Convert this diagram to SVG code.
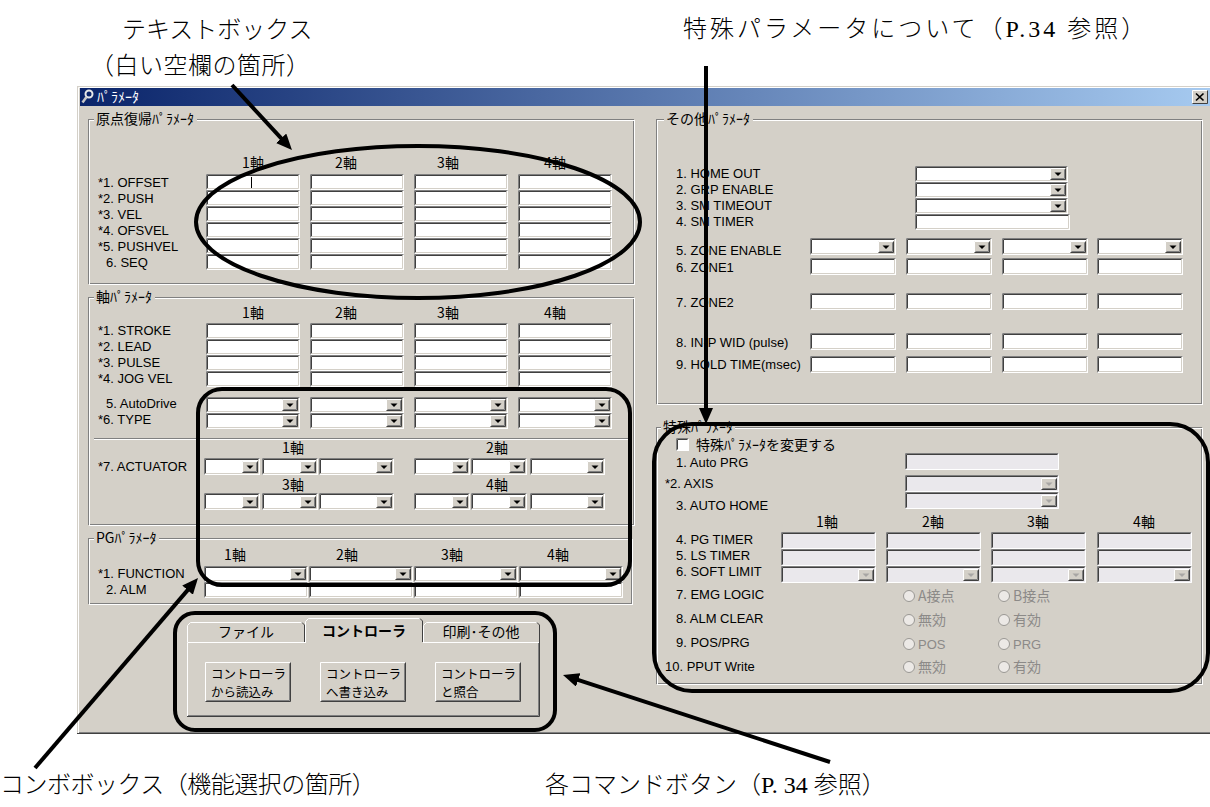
<svg xmlns="http://www.w3.org/2000/svg" width="1210" height="807" viewBox="0 0 1210 807">
<style>
.ui{font-family:'Liberation Sans','Noto Sans CJK JP',sans-serif;font-size:13px;fill:#000}
.jp{font-family:'Noto Sans CJK JP',sans-serif;font-size:14px;fill:#000}
.bt{font-family:'Noto Sans CJK JP',sans-serif;font-size:12.5px;fill:#000}
.mid{text-anchor:middle}
.dis{fill:#8c8a88}
.wt{fill:#fff}
.ann{font-family:'Liberation Serif','Noto Sans CJK JP',serif;font-size:24px;fill:#000;font-weight:300}
.s1{fill:none;stroke:#808080}
.s2{fill:none;stroke:#404040}
.s3{fill:none;stroke:#d4d0c8}
.hw{fill:none;stroke:#fff}
.face{fill:#d4d0c8}
.mark{fill:none;stroke:#000;stroke-width:4}
.conn{fill:none;stroke:#000;stroke-width:4}
.rad{fill:#ece9e6;stroke:#9a9894}
</style>
<defs>
<linearGradient id="tg" x1="0" y1="0" x2="1" y2="0"><stop offset="0" stop-color="#0a246a"/><stop offset="1" stop-color="#a6caf0"/></linearGradient>
<marker id="ah" viewBox="0 0 16 14" refX="6" refY="7" markerWidth="16" markerHeight="14" markerUnits="userSpaceOnUse" orient="auto"><path d="M0 0L16 7L0 14z" fill="#000"/></marker>
<g id="ab"><rect width="16" height="12" fill="#d4d0c8"/><path d="M.5 11.5V.5h15" class="hw"/><path d="M.5 11.5h15V.5" class="s2"/><path d="M1.5 10.5h13V1.5" class="s1"/><path d="M4.5 4.5h7L8 8z" fill="#000"/></g>
<g id="abd"><rect width="16" height="12" fill="#d4d0c8"/><path d="M.5 11.5V.5h15" class="hw"/><path d="M.5 11.5h15V.5" class="s2"/><path d="M1.5 10.5h13V1.5" class="s1"/><path d="M4.5 4.5h7L8 8z" fill="#a8a6a4"/></g>
<g id="t94"><rect width="94" height="16" fill="#fff"/><path d="M.5 15.5V.5h93" class="s1"/><path d="M1.5 14.5V1.5h91" class="s2"/><path d="M1.5 14.5h91V1.5" class="s3"/></g>
<g id="c94"><use href="#t94"/><use href="#ab" x="76" y="2"/></g>
<g id="c56"><rect width="56" height="17" fill="#fff"/><path d="M.5 16.5V.5h55" class="s1"/><path d="M1.5 15.5V1.5h53" class="s2"/><path d="M1.5 15.5h53V1.5" class="s3"/><use href="#ab" x="38" y="3"/></g>
<g id="c75"><rect width="75" height="17" fill="#fff"/><path d="M.5 16.5V.5h74" class="s1"/><path d="M1.5 15.5V1.5h72" class="s2"/><path d="M1.5 15.5h72V1.5" class="s3"/><use href="#ab" x="57" y="3"/></g>
<g id="t104"><rect width="104" height="16" fill="#fff"/><path d="M.5 15.5V.5h103" class="s1"/><path d="M1.5 14.5V1.5h101" class="s2"/><path d="M1.5 14.5h101V1.5" class="s3"/></g>
<g id="c104"><use href="#t104"/><use href="#ab" x="86" y="2"/></g>
<g id="t153"><rect width="153" height="16" fill="#fff"/><path d="M.5 15.5V.5h152" class="s1"/><path d="M1.5 14.5V1.5h150" class="s2"/><path d="M1.5 14.5h150V1.5" class="s3"/></g>
<g id="c153"><use href="#t153"/><use href="#ab" x="135" y="2"/></g>
<g id="t155"><rect width="155" height="16" fill="#fff"/><path d="M.5 15.5V.5h154" class="s1"/><path d="M1.5 14.5V1.5h152" class="s2"/><path d="M1.5 14.5h152V1.5" class="s3"/></g>
<g id="t86"><rect width="86" height="17" fill="#fff"/><path d="M.5 16.5V.5h85" class="s1"/><path d="M1.5 15.5V1.5h83" class="s2"/><path d="M1.5 15.5h83V1.5" class="s3"/></g>
<g id="c86"><use href="#t86"/><use href="#ab" x="68" y="3"/></g>
<g id="d154"><rect width="154" height="17" fill="#eae8ec"/><path d="M.5 16.5V.5h153" class="s1"/><path d="M1.5 15.5V1.5h151" class="s2"/><path d="M.5 16.5h153V.5" class="hw"/></g>
<g id="e154"><use href="#d154"/><use href="#abd" x="136" y="3"/></g>
<g id="d95"><rect width="95" height="17" fill="#eae8ec"/><path d="M.5 16.5V.5h94" class="s1"/><path d="M1.5 15.5V1.5h92" class="s2"/><path d="M.5 16.5h94V.5" class="hw"/></g>
<g id="e95"><use href="#d95"/><use href="#abd" x="77" y="3"/></g>
<g id="btn"><rect width="86" height="40" fill="#d4d0c8"/><path d="M.5 39.5V.5h85" class="hw"/><path d="M.5 39.5h85V.5" class="s2"/><path d="M1.5 38.5h83V1.5" class="s1"/></g>
</defs>

<rect width="1210" height="807" fill="#fff"/>

<g id="window">
<rect x="77" y="86" width="1140" height="648" fill="#d4d0c8"/>
<path d="M78.5 733V87.5H1210" class="hw"/>
<path d="M77 733.5H1210" class="s2"/>
<path d="M79 732.5H1210" class="s1"/>
<rect x="80" y="88" width="1130" height="18" fill="url(#tg)"/>
<circle cx="89" cy="94" r="3.5" fill="none" stroke="#e8e8e8" stroke-width="2"/>
<path d="M86.5 97L82.5 102.5" stroke="#c8c8c8" stroke-width="2.5"/>
<text x="97" y="102" class="jp wt">ﾊﾟﾗﾒｰﾀ</text>
<rect x="1192" y="90" width="16" height="14" fill="#d4d0c8"/>
<path d="M1192.5 103.5V90.5h15" class="hw"/><path d="M1192.5 103.5h15V90.5" class="s2"/>
<path d="M1196 93.5l7.5 7M1203.5 93.5l-7.5 7" stroke="#000" stroke-width="1.7"/>
</g>

<g id="home-params">
<rect x="88.5" y="119.5" width="545" height="164" class="s1"/><rect x="89.5" y="120.5" width="545" height="164" class="hw"/>
<rect x="94" y="112" width="103" height="14" class="face"/>
<text x="96" y="124" class="jp">原点復帰ﾊﾟﾗﾒｰﾀ</text>
<text x="253" y="168" class="jp mid">1軸</text><text x="346" y="168" class="jp mid">2軸</text><text x="448" y="168" class="jp mid">3軸</text><text x="555" y="168" class="jp mid">4軸</text>
<text x="98" y="187" class="ui">*1. OFFSET</text>
<text x="98" y="203" class="ui">*2. PUSH</text>
<text x="98" y="219" class="ui">*3. VEL</text>
<text x="98" y="235" class="ui">*4. OFSVEL</text>
<text x="98" y="251" class="ui">*5. PUSHVEL</text>
<text x="106" y="267" class="ui">6. SEQ</text>
<use href="#t94" x="206" y="174"/><use href="#t94" x="310" y="174"/><use href="#t94" x="414" y="174"/><use href="#t94" x="518" y="174"/>
<use href="#t94" x="206" y="190"/><use href="#t94" x="310" y="190"/><use href="#t94" x="414" y="190"/><use href="#t94" x="518" y="190"/>
<use href="#t94" x="206" y="206"/><use href="#t94" x="310" y="206"/><use href="#t94" x="414" y="206"/><use href="#t94" x="518" y="206"/>
<use href="#t94" x="206" y="222"/><use href="#t94" x="310" y="222"/><use href="#t94" x="414" y="222"/><use href="#t94" x="518" y="222"/>
<use href="#t94" x="206" y="238"/><use href="#t94" x="310" y="238"/><use href="#t94" x="414" y="238"/><use href="#t94" x="518" y="238"/>
<use href="#t94" x="206" y="254"/><use href="#t94" x="310" y="254"/><use href="#t94" x="414" y="254"/><use href="#t94" x="518" y="254"/>
<path d="M251.5 177v11" stroke="#000"/>
</g>

<g id="axis-params">
<rect x="88.5" y="297.5" width="545" height="227" class="s1"/><rect x="89.5" y="298.5" width="545" height="227" class="hw"/>
<rect x="94" y="290" width="61" height="14" class="face"/>
<text x="96" y="302" class="jp">軸ﾊﾟﾗﾒｰﾀ</text>
<text x="253" y="318" class="jp mid">1軸</text><text x="346" y="318" class="jp mid">2軸</text><text x="448" y="318" class="jp mid">3軸</text><text x="555" y="318" class="jp mid">4軸</text>
<text x="98" y="335" class="ui">*1. STROKE</text>
<text x="98" y="351" class="ui">*2. LEAD</text>
<text x="98" y="367" class="ui">*3. PULSE</text>
<text x="98" y="383" class="ui">*4. JOG VEL</text>
<text x="106" y="408" class="ui">5. AutoDrive</text>
<text x="98" y="424" class="ui">*6. TYPE</text>
<use href="#t94" x="206" y="323"/><use href="#t94" x="310" y="323"/><use href="#t94" x="414" y="323"/><use href="#t94" x="518" y="323"/>
<use href="#t94" x="206" y="339"/><use href="#t94" x="310" y="339"/><use href="#t94" x="414" y="339"/><use href="#t94" x="518" y="339"/>
<use href="#t94" x="206" y="355"/><use href="#t94" x="310" y="355"/><use href="#t94" x="414" y="355"/><use href="#t94" x="518" y="355"/>
<use href="#t94" x="206" y="371"/><use href="#t94" x="310" y="371"/><use href="#t94" x="414" y="371"/><use href="#t94" x="518" y="371"/>
<use href="#c94" x="206" y="397"/><use href="#c94" x="310" y="397"/><use href="#c94" x="414" y="397"/><use href="#c94" x="518" y="397"/>
<use href="#c94" x="206" y="413"/><use href="#c94" x="310" y="413"/><use href="#c94" x="414" y="413"/><use href="#c94" x="518" y="413"/>
<path d="M94 438.5H628" class="s1"/><path d="M94 439.5H628" class="hw"/>
<text x="293" y="453" class="jp mid">1軸</text><text x="497" y="453" class="jp mid">2軸</text>
<text x="98" y="471" class="ui">*7. ACTUATOR</text>
<use href="#c56" x="204" y="458"/><use href="#c56" x="262" y="458"/><use href="#c75" x="319" y="458"/>
<use href="#c56" x="414" y="458"/><use href="#c56" x="471" y="458"/><use href="#c75" x="530" y="458"/>
<text x="293" y="490" class="jp mid">3軸</text><text x="497" y="490" class="jp mid">4軸</text>
<use href="#c56" x="204" y="493"/><use href="#c56" x="262" y="493"/><use href="#c75" x="319" y="493"/>
<use href="#c56" x="414" y="493"/><use href="#c56" x="471" y="493"/><use href="#c75" x="530" y="493"/>
</g>

<g id="pg-params">
<rect x="88.5" y="538.5" width="543" height="65" class="s1"/><rect x="89.5" y="539.5" width="543" height="65" class="hw"/>
<rect x="94" y="531" width="65" height="14" class="face"/>
<text x="96" y="543" class="jp">PGﾊﾟﾗﾒｰﾀ</text>
<text x="235" y="560" class="jp mid">1軸</text><text x="347" y="560" class="jp mid">2軸</text><text x="452" y="560" class="jp mid">3軸</text><text x="558" y="560" class="jp mid">4軸</text>
<text x="98" y="578" class="ui">*1. FUNCTION</text>
<text x="106" y="594" class="ui">2. ALM</text>
<use href="#c104" x="204" y="566"/><use href="#c104" x="309" y="566"/><use href="#c104" x="414" y="566"/><use href="#c104" x="519" y="566"/>
<use href="#t104" x="204" y="582"/><use href="#t104" x="309" y="582"/><use href="#t104" x="414" y="582"/><use href="#t104" x="519" y="582"/>
</g>

<g id="tab-control">
<rect x="187" y="642" width="353" height="75" fill="#d4d0c8"/>
<path d="M187.5 716.5V642.5H540" class="hw"/>
<path d="M187 716.5H539.5V642" class="s2"/>
<path d="M188 715.5H538.5V643" class="s1"/>
<path d="M187 642V625l3-3h112l3 3v17z" fill="#d4d0c8"/>
<path d="M187.5 642V625.5l3-3H302" class="hw"/><path d="M302 622.5l2.5 2.5V642" class="s2"/>
<path d="M423 642V625l3-3h111l3 3v17z" fill="#d4d0c8"/>
<path d="M423.5 642V625.5l3-3H537" class="hw"/><path d="M537 622.5l2.5 2.5V642" class="s2"/>
<path d="M305 643.5V621l3-3h112l3 3v22.5z" fill="#d4d0c8"/>
<path d="M305.5 643V621.5l3-3H420" class="hw"/><path d="M420 618.5l2.5 2.5V642" class="s2"/>
<text x="246" y="637" class="jp mid">ファイル</text>
<text x="364" y="636" class="jp mid" font-weight="bold">コントローラ</text>
<text x="481" y="637" class="jp mid">印刷･その他</text>
<use href="#btn" x="205" y="662"/><use href="#btn" x="320" y="662"/><use href="#btn" x="435" y="662"/>
<text x="211" y="679" class="bt">コントローラ</text><text x="211" y="697" class="bt">から読込み</text>
<text x="326" y="679" class="bt">コントローラ</text><text x="326" y="697" class="bt">へ書き込み</text>
<text x="441" y="679" class="bt">コントローラ</text><text x="441" y="697" class="bt">と照合</text>
</g>

<g id="other-params">
<rect x="656.5" y="119.5" width="545" height="284" class="s1"/><rect x="657.5" y="120.5" width="545" height="284" class="hw"/>
<rect x="664" y="112" width="89" height="14" class="face"/>
<text x="666" y="124" class="jp">その他ﾊﾟﾗﾒｰﾀ</text>
<text x="676" y="178" class="ui">1. HOME OUT</text>
<text x="676" y="194" class="ui">2. GRP ENABLE</text>
<text x="676" y="210" class="ui">3. SM TIMEOUT</text>
<text x="676" y="226" class="ui">4. SM TIMER</text>
<use href="#c153" x="915" y="166"/><use href="#c153" x="915" y="182"/><use href="#c153" x="915" y="198"/><use href="#t155" x="915" y="214"/>
<text x="676" y="255" class="ui">5. ZONE ENABLE</text>
<text x="676" y="272" class="ui">6. ZONE1</text>
<text x="676" y="307" class="ui">7. ZONE2</text>
<text x="676" y="347" class="ui">8. IN-P WID (pulse)</text>
<text x="676" y="369" class="ui">9. HOLD TIME(msec)</text>
<use href="#c86" x="810" y="238"/><use href="#c86" x="906" y="238"/><use href="#c86" x="1002" y="238"/><use href="#c86" x="1097" y="238"/>
<use href="#t86" x="810" y="258"/><use href="#t86" x="906" y="258"/><use href="#t86" x="1002" y="258"/><use href="#t86" x="1097" y="258"/>
<use href="#t86" x="810" y="293"/><use href="#t86" x="906" y="293"/><use href="#t86" x="1002" y="293"/><use href="#t86" x="1097" y="293"/>
<use href="#t86" x="810" y="333"/><use href="#t86" x="906" y="333"/><use href="#t86" x="1002" y="333"/><use href="#t86" x="1097" y="333"/>
<use href="#t86" x="810" y="356"/><use href="#t86" x="906" y="356"/><use href="#t86" x="1002" y="356"/><use href="#t86" x="1097" y="356"/>
</g>

<g id="special-params">
<rect x="656.5" y="427.5" width="545" height="256" class="s1"/><rect x="657.5" y="428.5" width="545" height="256" class="hw"/>
<rect x="661" y="420" width="74" height="14" class="face"/>
<text x="663" y="432" class="jp">特殊ﾊﾟﾗﾒｰﾀ</text>
<rect x="676" y="438" width="13" height="13" fill="#fff"/>
<path d="M676.5 450.5V438.5h12" class="s1"/><path d="M677.5 449.5V439.5h10" class="s2"/>
<text x="696" y="450" class="jp">特殊ﾊﾟﾗﾒｰﾀを変更する</text>
<text x="676" y="467" class="ui">1. Auto PRG</text>
<text x="665" y="488" class="ui">*2. AXIS</text>
<text x="676" y="510" class="ui">3. AUTO HOME</text>
<use href="#d154" x="905" y="453"/><use href="#e154" x="905" y="475"/><use href="#e154" x="905" y="492"/>
<text x="827" y="527" class="jp mid">1軸</text><text x="933" y="527" class="jp mid">2軸</text><text x="1038" y="527" class="jp mid">3軸</text><text x="1144" y="527" class="jp mid">4軸</text>
<text x="676" y="544" class="ui">4. PG TIMER</text>
<text x="676" y="560" class="ui">5. LS TIMER</text>
<text x="676" y="576" class="ui">6. SOFT LIMIT</text>
<use href="#d95" x="781" y="532"/><use href="#d95" x="886" y="532"/><use href="#d95" x="991" y="532"/><use href="#d95" x="1097" y="532"/>
<use href="#d95" x="781" y="549"/><use href="#d95" x="886" y="549"/><use href="#d95" x="991" y="549"/><use href="#d95" x="1097" y="549"/>
<use href="#e95" x="781" y="566"/><use href="#e95" x="886" y="566"/><use href="#e95" x="991" y="566"/><use href="#e95" x="1097" y="566"/>
<text x="676" y="599" class="ui">7. EMG LOGIC</text>
<text x="676" y="623" class="ui">8. ALM CLEAR</text>
<text x="676" y="647" class="ui">9. POS/PRG</text>
<text x="665" y="671" class="ui">10. PPUT Write</text>
<circle cx="909" cy="596" r="5.5" class="rad"/><circle cx="1004" cy="596" r="5.5" class="rad"/>
<circle cx="909" cy="620" r="5.5" class="rad"/><circle cx="1004" cy="620" r="5.5" class="rad"/>
<circle cx="909" cy="644" r="5.5" class="rad"/><circle cx="1004" cy="644" r="5.5" class="rad"/>
<circle cx="909" cy="667" r="5.5" class="rad"/><circle cx="1004" cy="667" r="5.5" class="rad"/>
<text x="918" y="601" class="jp dis">A接点</text><text x="1013" y="601" class="jp dis">B接点</text>
<text x="918" y="625" class="jp dis">無効</text><text x="1013" y="625" class="jp dis">有効</text>
<text x="918" y="649" class="ui dis">POS</text><text x="1013" y="649" class="ui dis">PRG</text>
<text x="918" y="672" class="jp dis">無効</text><text x="1013" y="672" class="jp dis">有効</text>
</g>

<g id="highlights">
<ellipse id="hl-textboxes" cx="418" cy="222" rx="222" ry="76" class="mark"/>
<rect id="hl-combos" x="198" y="389" width="432" height="196" rx="24" class="mark"/>
<rect id="hl-buttons" x="175" y="613" width="380" height="117" rx="20" class="mark"/>
<rect id="hl-special" x="654" y="424" width="554" height="267" rx="38" class="mark"/>
</g>

<g id="connectors">
<path d="M232 85L285.2 142.7" class="conn" marker-end="url(#ah)"/>
<path d="M706 66V414" class="conn" marker-end="url(#ah)"/>
<path d="M35 768L191.5 585.6" class="conn" marker-end="url(#ah)"/>
<path d="M830 762L572.5 678.1" class="conn" marker-end="url(#ah)"/>
</g>

<g id="labels">
<text x="122" y="38" class="ann" font-size="20">テキストボックス</text>
<text x="90" y="74" class="ann" font-size="26" letter-spacing="0.5">（白い空欄の箇所）</text>
<text x="683" y="37" class="ann" letter-spacing="3">特殊パラメータについて（P.34 参照）</text>
<text x="0" y="793" class="ann" font-size="18" letter-spacing="-0.5">コンボボックス（機能選択の箇所）</text>
<text x="545" y="793" class="ann" font-size="18">各コマンドボタン（P. 34 参照）</text>
</g>
</svg>
